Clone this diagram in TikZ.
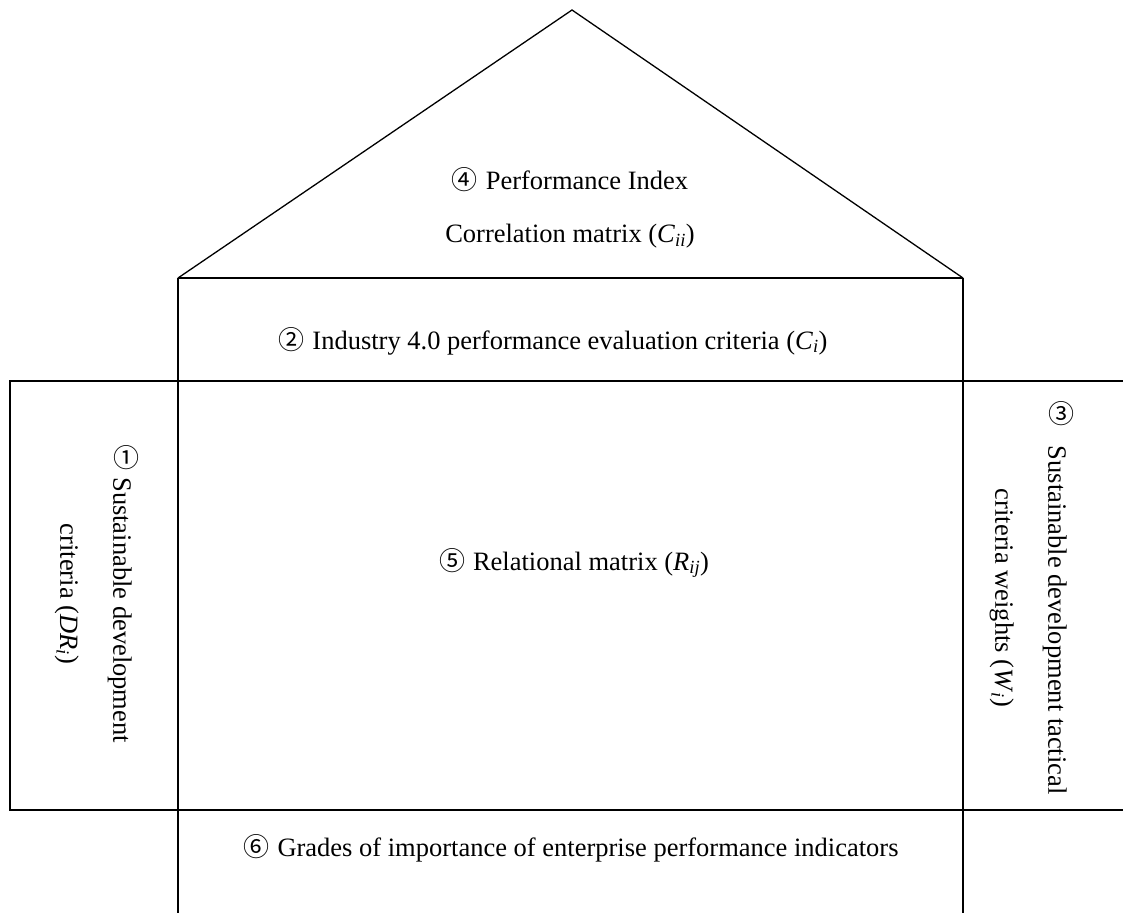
\documentclass[tikz,border=0pt]{standalone}
\usepackage{fontspec}
\setmainfont{Liberation Serif}
\newfontfamily\circfont{Noto Sans CJK JP}
\newcommand{\cnum}[1]{{\circfont\fontsize{26}{26}\selectfont #1}}
\newcommand{\ucnum}[1]{\rotatebox{90}{\cnum{#1}}}
\begin{document}
\begin{tikzpicture}[x=1pt,y=-1pt,
  thick line/.style={line width=2.3pt},
  thin line/.style={line width=1.3pt},
  lbl/.style={font=\fontsize{26.5}{53}\selectfont, align=center, inner sep=0pt},
]
\useasboundingbox (0,0) rectangle (1123,913);
% coordinates
\coordinate (apex) at (572,10);
\coordinate (rl) at (178,278);
\coordinate (rr) at (963,278);
\coordinate (ml) at (178,381);
\coordinate (mr) at (963,381);
\coordinate (bl) at (178,810);
\coordinate (br) at (963,810);
% roof
\draw[thin line, line join=miter] (rl) -- (apex) -- (rr);
\draw[thick line] (rl) -- (rr);
% columns
\draw[thick line] (rl) -- (178,913);
\draw[thick line] (rr) -- (963,913);
\draw[thick line] (ml) -- (mr);
\draw[thick line] (bl) -- (br);
% left box
\draw[thin line] (ml) -- (10,381) -- (10,810) -- (bl);
% right box
\draw[thin line] (mr) -- (1123,381);
\draw[thin line] (br) -- (1123,810);
% texts
\node[lbl] (t4) at (570,208) {\cnum{④}\hspace{8pt}Performance Index\\Correlation matrix (\textit{C}\textsubscript{\textit{ii}})};
\node[lbl] (t2) at (553,341) {\cnum{②}\hspace{8pt}Industry 4.0 performance evaluation criteria (\textit{C}\textsubscript{\textit{i}})};
\node[lbl] (t5) at (574,563) {\cnum{⑤}\hspace{8pt}Relational matrix (\textit{R}\textsubscript{\textit{ij}})};
\node[lbl] (t6) at (571,848) {\cnum{⑥}\hspace{8pt}Grades of importance of enterprise performance indicators};
\node[lbl, rotate=-90] (t1) at (97,594) {\ucnum{①}\hspace{8pt}Sustainable development\\criteria (\textit{DR}\textsubscript{\textit{i}})};
\node[lbl, rotate=-90] (t3) at (1032,598) {\ucnum{③}\hspace{20pt}Sustainable development tactical\\criteria weights (\textit{W}\textsubscript{\textit{i}})};
\end{tikzpicture}
\end{document}
